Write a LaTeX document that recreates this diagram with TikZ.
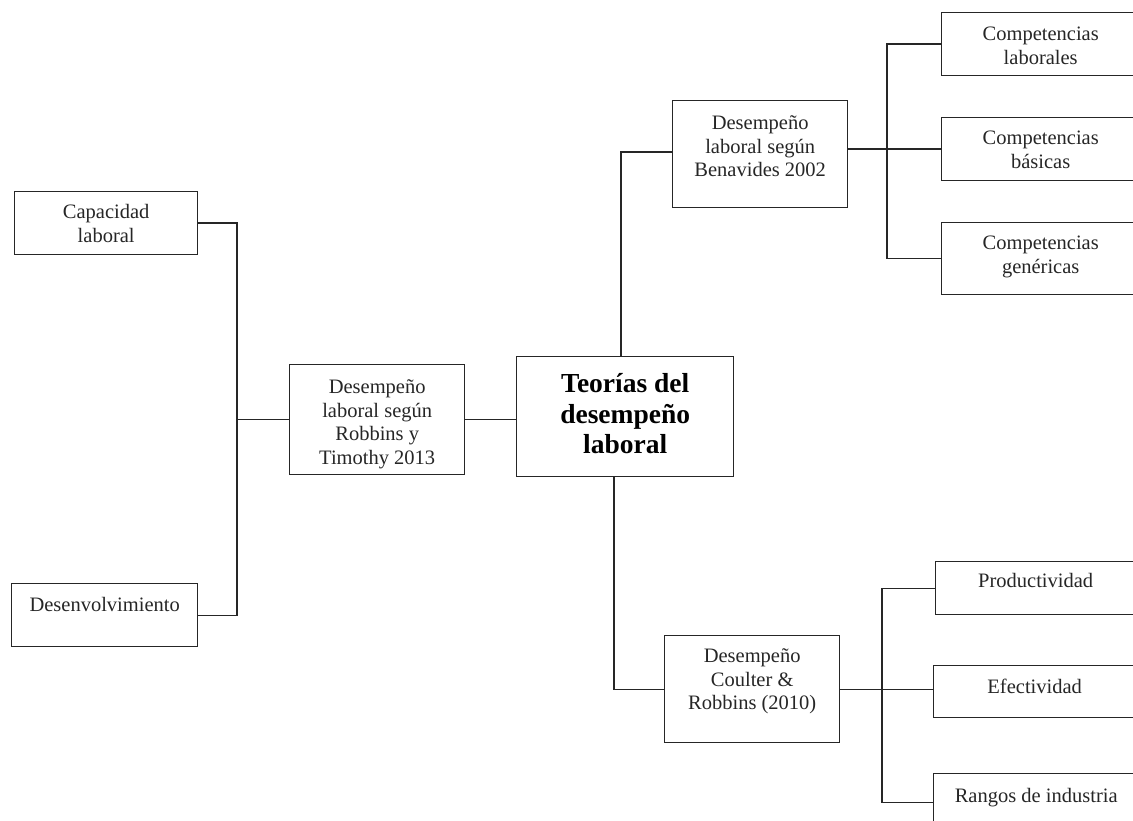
\documentclass[tikz,border=0pt]{standalone}
\usepackage{fontspec}
\setmainfont{Liberation Serif}
\newcommand{\stk}[1]{\begin{tabular}[t]{@{}c@{}}#1\end{tabular}}
\begin{document}
\begin{tikzpicture}[x=1pt,y=-1pt,
  box/.style={draw=black!85, line width=1.4pt, anchor=north west, inner xsep=0pt, inner ysep=0pt,
    font=\fontsize{20.5}{23.5}\selectfont, text=black!85},
  mainbox/.style={box, font=\fontsize{27.5}{30.5}\selectfont\bfseries, text=black},
  link/.style={draw=black!85, line width=1.4pt}]
\useasboundingbox (0,0) rectangle (1133,821);

% central
\node[mainbox, minimum width=217pt, text height=36pt, text depth=84pt] (central) at (516,356)
  {\stk{Teorías del\\desempeño\\laboral}};

% second level
\node[box, minimum width=175pt, text height=29pt, text depth=78pt] (benav) at (672,100)
  {\stk{Desempeño\\laboral según\\Benavides 2002}};
\node[box, minimum width=175pt, text height=29pt, text depth=81pt] (rob) at (289,364)
  {\stk{Desempeño\\laboral según\\Robbins y\\Timothy 2013}};
\node[box, minimum width=175pt, text height=27pt, text depth=80pt] (coulter) at (664,635)
  {\stk{Desempeño\\Coulter \&\\Robbins (2010)}};

% top right leaves
\node[box, minimum width=198pt, text height=28pt, text depth=35pt] (c1) at (941,12)
  {\stk{Competencias\\laborales}};
\node[box, minimum width=198pt, text height=27pt, text depth=36pt] (c2) at (941,117)
  {\stk{Competencias\\básicas}};
\node[box, minimum width=198pt, text height=27pt, text depth=45pt] (c3) at (941,222)
  {\stk{Competencias\\genéricas}};

% left leaves
\node[box, minimum width=183pt, text height=27pt, text depth=36pt] (cap) at (14,191)
  {\stk{Capacidad\\laboral}};
\node[box, minimum width=186pt, text height=28pt, text depth=35pt] (des) at (11,583)
  {Desenvolvimiento};

% bottom right leaves
\node[box, minimum width=200pt, text height=26pt, text depth=27pt] (prod) at (935,561)
  {Productividad};
\node[box, minimum width=202pt, text height=28pt, text depth=24pt] (efe) at (933,665)
  {Efectividad};
\node[box, minimum width=205pt, text height=29pt, text depth=28pt] (ran) at (933,773)
  {Rangos de industria};

% junction coordinates
\coordinate (jt) at (621,152);
\coordinate (jb) at (614,0);
\coordinate (bx) at (887,0);
\coordinate (lx) at (237,0);
\coordinate (rx) at (882,0);

% connectors
\draw[link] (central.north -| jt) -- (jt) -- (jt -| benav.west);
\draw[link] (c2.west) -- (c2.west -| benav.east);
\draw[link] (c1.west) -- (c1.west -| bx) -- (c3.west -| bx) -- (c3.west);

\draw[link] (rob.east) -- (rob.east -| central.west);
\draw[link] (rob.west) -- (rob.west -| lx);
\draw[link] (cap.east) -- (cap.east -| lx) -- (des.east -| lx) -- (des.east);

\draw[link] (central.south -| jb) -- (coulter.west -| jb) -- (coulter.west);
\draw[link] (coulter.east) -- (coulter.east -| efe.west);
\draw[link] (prod.west) -- (prod.west -| rx) -- (ran.west -| rx) -- (ran.west);
\end{tikzpicture}
\end{document}
